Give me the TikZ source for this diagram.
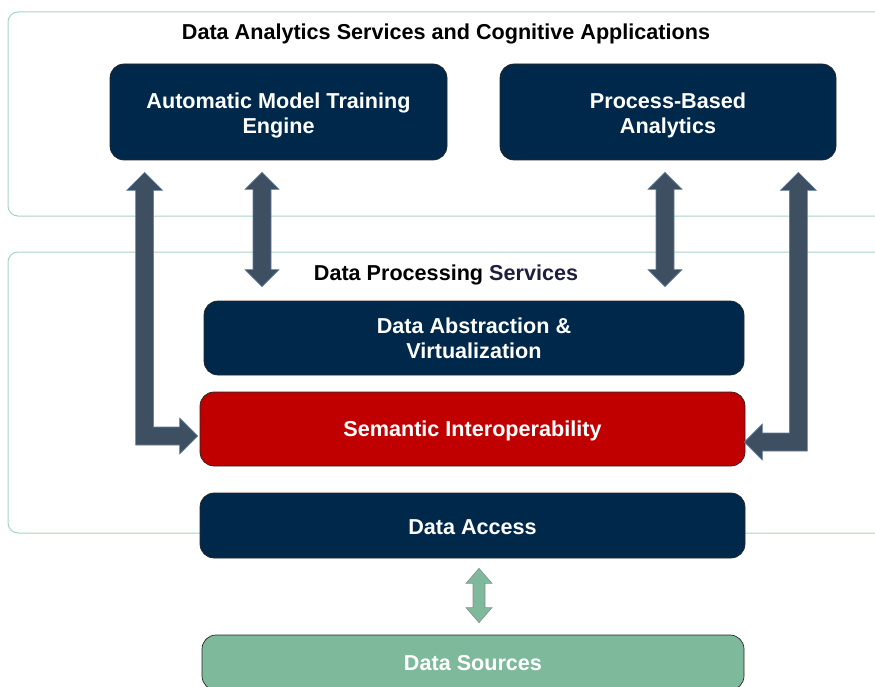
\documentclass[tikz,border=0pt]{standalone}
\usepackage{fontspec}
\setmainfont{Liberation Sans}
\usetikzlibrary{calc}
\definecolor{navy}{RGB}{0,40,74}
\definecolor{semred}{RGB}{192,0,0}
\definecolor{srcgreen}{RGB}{127,185,155}
\definecolor{arrowc}{RGB}{62,79,97}
\definecolor{arrowedge}{RGB}{95,125,160}
\definecolor{framec}{RGB}{168,212,190}
\definecolor{servc}{RGB}{31,31,60}
\begin{document}
\begin{tikzpicture}[x=1pt,y=-1pt,
  lbl/.style={font=\fontsize{21.6}{25}\selectfont\bfseries, align=center, inner sep=0pt},
  wlbl/.style={lbl, text=white},
  box/.style={draw=black!85, line width=0.7pt, rounded corners=14pt, inner sep=0pt},
  frame/.style={draw=framec, line width=1pt, rounded corners=10pt},
  bigarr/.style={fill=arrowc, draw=arrowedge, line width=0.6pt, line join=miter},
  smallarr/.style={fill=srcgreen, draw=black!45, line width=0.6pt}]
\useasboundingbox (0,0) rectangle (875,687);
\clip (0,0) rectangle (875,687);

% outer frames
\draw[frame] (8,12) rectangle (920,216);
\draw[frame] (8,252) rectangle (920,533);

% titles
\node[lbl] (t1) at (446,33.5) {Data Analytics Services and Cognitive Applications};
\node[lbl] (t2) at (446,274.5) {Data Processing \textcolor{servc}{Services}};

% boxes
\node[box, fill=navy, minimum width=337pt, minimum height=96pt] (amt) at (278.5,112) {};
\node[box, fill=navy, minimum width=336pt, minimum height=96pt] (pba) at (668,112) {};
\node[box, fill=navy, minimum width=540pt, minimum height=74pt] (dav) at (474,338) {};
\node[box, fill=semred, minimum width=545pt, minimum height=74pt] (sem) at (472.5,429) {};
\node[box, fill=navy, minimum width=545pt, minimum height=65pt] (dacc) at (472.5,525.5) {};
\node[box, fill=srcgreen, minimum width=542pt, minimum height=55pt] (dsrc) at (473,662.5) {};

% box texts
\node[wlbl] (amtT) at ($(amt)+(0,3)$) {Automatic Model Training\\Engine};
\node[wlbl] (pbaT) at ($(pba)+(0,3)$) {Process-Based\\Analytics};
\node[wlbl] (davT) at ($(dav)+(0,0.5)$) {Data Abstraction \&\\Virtualization};
\node[wlbl] (semT) at ($(sem)+(0,2)$) {Semantic Interoperability};
\node[wlbl] (daccT) at ($(dacc)+(0,2)$) {Data Access};
\node[wlbl] (dsrcT) at ($(dsrc)+(0,1)$) {Data Sources};

% anchor coordinates for connectors
\coordinate (aTop) at ($(amt.south west)+(35,12)$);
\coordinate (aTip) at ($(sem.west)+(-2,7)$);
\coordinate (dTop) at ($(pba.south east)+(-38,12)$);
\coordinate (dTip) at ($(sem.east)+(-1,13)$);
\coordinate (bTop) at ($(amt.south)+(-16.5,12)$);
\coordinate (bBot) at ($(dav.north)+(-212,-14)$);
\coordinate (cTop) at ($(pba.south)+(-3,12)$);
\coordinate (cBot) at ($(dav.north)+(191,-14)$);
\coordinate (gTop) at ($(dacc.south)+(6.5,10)$);
\coordinate (gBot) at ($(dsrc.north)+(6,-12)$);

% L-shaped arrow: Automatic Model Training <-> Semantic Interoperability
\draw[bigarr] (aTop) -- ++(18,18) -- ++(-9,0) |- ($(aTip)+(-18,-9)$) -- ++(0,-9) -- (aTip)
  -- ++(-18,18) -- ++(0,-9) -| ($(aTop)+(-9,18)$) -- ++(-9,0) -- cycle;
% L-shaped arrow: Process-Based Analytics <-> Semantic Interoperability
\draw[bigarr] (dTop) -- ++(-18,18) -- ++(9,0) |- ($(dTip)+(18,-9)$) -- ++(0,-9) -- (dTip)
  -- ++(18,18) -- ++(0,-9) -| ($(dTop)+(9,18)$) -- ++(9,0) -- cycle;
% vertical double arrows
\draw[bigarr] (bTop) -- ++(17,17) -- ++(-8,0) -- ($(bBot)+(9,-17)$) -- ++(8,0) -- (bBot)
  -- ++(-17,-17) -- ++(8,0) -- ($(bTop)+(-9,17)$) -- ++(-8,0) -- cycle;
\draw[bigarr] (cTop) -- ++(17,17) -- ++(-8,0) -- ($(cBot)+(9,-17)$) -- ++(8,0) -- (cBot)
  -- ++(-17,-17) -- ++(8,0) -- ($(cTop)+(-9,17)$) -- ++(-8,0) -- cycle;
% green double arrow: Data Access <-> Data Sources
\draw[smallarr] (gTop) -- ++(13,15) -- ++(-7,0) -- ($(gBot)+(6,-15)$) -- ++(7,0) -- (gBot)
  -- ++(-13,-15) -- ++(7,0) -- ($(gTop)+(-6,15)$) -- ++(-7,0) -- cycle;
\end{tikzpicture}
\end{document}
